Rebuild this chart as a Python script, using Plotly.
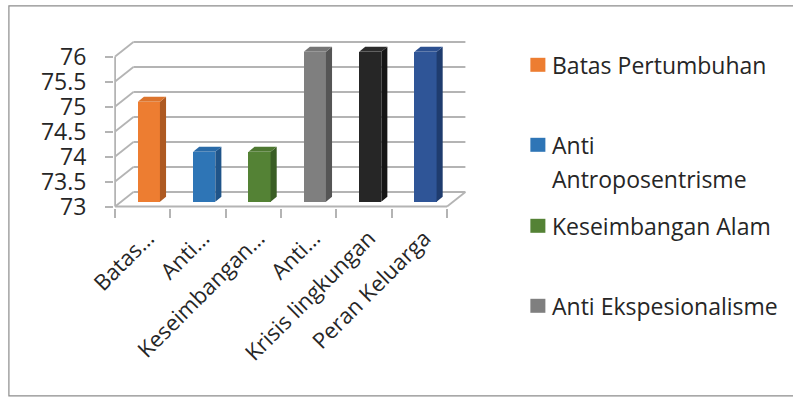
import plotly.graph_objects as go

# ---- data -------------------------------------------------------------
categories = ["Batas Pertumbuhan", "Anti Antroposentrisme", "Keseimbangan Alam",
              "Anti Ekspesionalisme", "Krisis lingkungan", "Peran Keluarga"]
tick_labels = ["Batas…", "Anti…", "Keseimbangan…", "Anti…",
               "Krisis lingkungan", "Peran Keluarga"]
values = [75, 74, 74, 76, 76, 76]
y_ticks = [73, 73.5, 74, 74.5, 75, 75.5, 76]

front_colors = ["#ED7D31", "#2E75B6", "#548235", "#7F7F7F", "#262626", "#2F5597"]
side_colors = ["#AE5A22", "#1F5489", "#3A5E25", "#555555", "#161616", "#1F3C6E"]
top_colors = ["#DC742D", "#2A6BA8", "#4E7831", "#767676", "#2C2C2C", "#2C5090"]

# the legend box only has room for the first four entries
legend_count = 4

# ---- layout geometry ----------------------------------------------------
W, H = 793, 397
X_PX, Y_PX = 55.28, 50.0            # pixels per category / per unit
X_RANGE = [-0.52, 5.86]
Y_RANGE = [72.97, 76.31]
ML = 114
PLOT_W = (X_RANGE[1] - X_RANGE[0]) * X_PX
PLOT_H = (Y_RANGE[1] - Y_RANGE[0]) * Y_PX
MR = W - ML - PLOT_W
MB = 188.8
MT = H - MB - PLOT_H

DX = 18.3 / X_PX                    # depth offset of the back wall (x units)
DY = 14.5 / Y_PX                    # depth offset of the back wall (y units)
F1, F2 = 1 / 3, 2 / 3               # near / far faces of the bars
BAR_W = 0.4
BASE = y_ticks[0]
n = len(categories)
x_lo, x_hi = -0.5, n - 0.5

GRID = "#B4B4B4"
TEXT = "#262626"
FONT = "Open Sans"


def px_to_paper(px, py):
    return (px - ML) / PLOT_W, ((H - MB) - py) / PLOT_H


fig = go.Figure()

# front faces of the bars
fig.add_trace(go.Bar(
    x=[i + F1 * DX for i in range(n)],
    y=[v - BASE for v in values],
    base=BASE + F1 * DY,
    width=BAR_W,
    marker=dict(color=front_colors, line=dict(width=0)),
    showlegend=False,
    hoverinfo="skip",
))

# side and top faces
ddx, ddy = (F2 - F1) * DX, (F2 - F1) * DY
for i, v in enumerate(values):
    cx = i + F1 * DX
    l, r = cx - BAR_W / 2, cx + BAR_W / 2
    b0, t0 = BASE + F1 * DY, v + F1 * DY
    fig.add_trace(go.Scatter(
        x=[r, r + ddx, r + ddx, r, r], y=[b0, b0 + ddy, t0 + ddy, t0, b0],
        fill="toself", fillcolor=side_colors[i], mode="lines",
        line=dict(width=0, color=side_colors[i]), showlegend=False, hoverinfo="skip"))
    fig.add_trace(go.Scatter(
        x=[l, r, r + ddx, l + ddx, l], y=[t0, t0, t0 + ddy, t0 + ddy, t0],
        fill="toself", fillcolor=top_colors[i], mode="lines",
        line=dict(width=0, color=top_colors[i]), showlegend=False, hoverinfo="skip"))

shapes = []
line_style = dict(color=GRID, width=1.8)
# walls: left-side diagonals plus back-wall gridlines
for t in y_ticks:
    shapes.append(dict(type="line", xref="x", yref="y", layer="below",
                       x0=x_lo, y0=t, x1=x_lo + DX, y1=t + DY, line=line_style))
    shapes.append(dict(type="line", xref="x", yref="y", layer="below",
                       x0=x_lo + DX, y0=t + DY, x1=x_hi + DX, y1=t + DY, line=line_style))
# floor front edge and right edge
shapes.append(dict(type="line", xref="x", yref="y", layer="below",
                   x0=x_lo, y0=BASE, x1=x_hi, y1=BASE, line=line_style))
shapes.append(dict(type="line", xref="x", yref="y", layer="below",
                   x0=x_hi, y0=BASE, x1=x_hi + DX, y1=BASE + DY, line=line_style))
# front vertical axis
shapes.append(dict(type="line", xref="x", yref="y", layer="below",
                   x0=x_lo, y0=BASE, x1=x_lo, y1=y_ticks[-1], line=line_style))

# chart frame
fx0, fy0 = px_to_paper(9, 396)
fx1, fy1 = px_to_paper(806, 6)
shapes.append(dict(type="rect", xref="paper", yref="paper",
                   x0=fx0, y0=fy0, x1=fx1, y1=fy1,
                   line=dict(color="#8C8C8C", width=1.2)))

# legend (squares + labels)
annotations = []
legend_rows = [65, 145, 226, 306]
for k in range(legend_count):
    cy = legend_rows[k]
    sx0, sy0 = px_to_paper(530, cy + 7)
    sx1, sy1 = px_to_paper(545, cy - 7)
    shapes.append(dict(type="rect", xref="paper", yref="paper",
                       x0=sx0, y0=sy0, x1=sx1, y1=sy1,
                       fillcolor=front_colors[k], line=dict(width=0)))
    words = categories[k].split(" ")
    lines = [categories[k]] if k != 1 else words
    for j, txt in enumerate(lines):
        ax, ay = px_to_paper(550, cy + j * 34)
        annotations.append(dict(xref="paper", yref="paper", x=ax, y=ay,
                                xanchor="left", yanchor="middle", showarrow=False,
                                text=txt, font=dict(family=FONT, size=23, color=TEXT)))

fig.update_layout(
    width=W, height=H,
    margin=dict(l=ML, r=MR, t=MT, b=MB, pad=0),
    paper_bgcolor="white", plot_bgcolor="white",
    font=dict(family=FONT, size=22, color=TEXT),
    showlegend=False,
    bargap=0,
    shapes=shapes,
    annotations=annotations,
    xaxis=dict(
        range=X_RANGE, showgrid=False, zeroline=False, showline=False,
        tickmode="array", tickvals=list(range(n)), ticktext=tick_labels,
        tickangle=-45, ticks="", ticklabelstandoff=12, ticklabelshift=5,
        tickfont=dict(family=FONT, size=22, color=TEXT),
        minor=dict(tickvals=[i - 0.5 for i in range(n + 1)], ticks="outside",
                   ticklen=9, tickwidth=1.8, tickcolor=GRID, showgrid=False),
        fixedrange=True,
    ),
    yaxis=dict(
        range=Y_RANGE, showgrid=False, zeroline=False, showline=False,
        tickmode="array", tickvals=y_ticks,
        ticktext=[f"{t:g}" for t in y_ticks],
        tickfont=dict(family=FONT, size=23, color=TEXT),
        ticks="outside", ticklen=8, tickwidth=1.8, tickcolor=GRID,
        ticklabelstandoff=14, fixedrange=True,
    ),
)

fig.write_html("out.html")
